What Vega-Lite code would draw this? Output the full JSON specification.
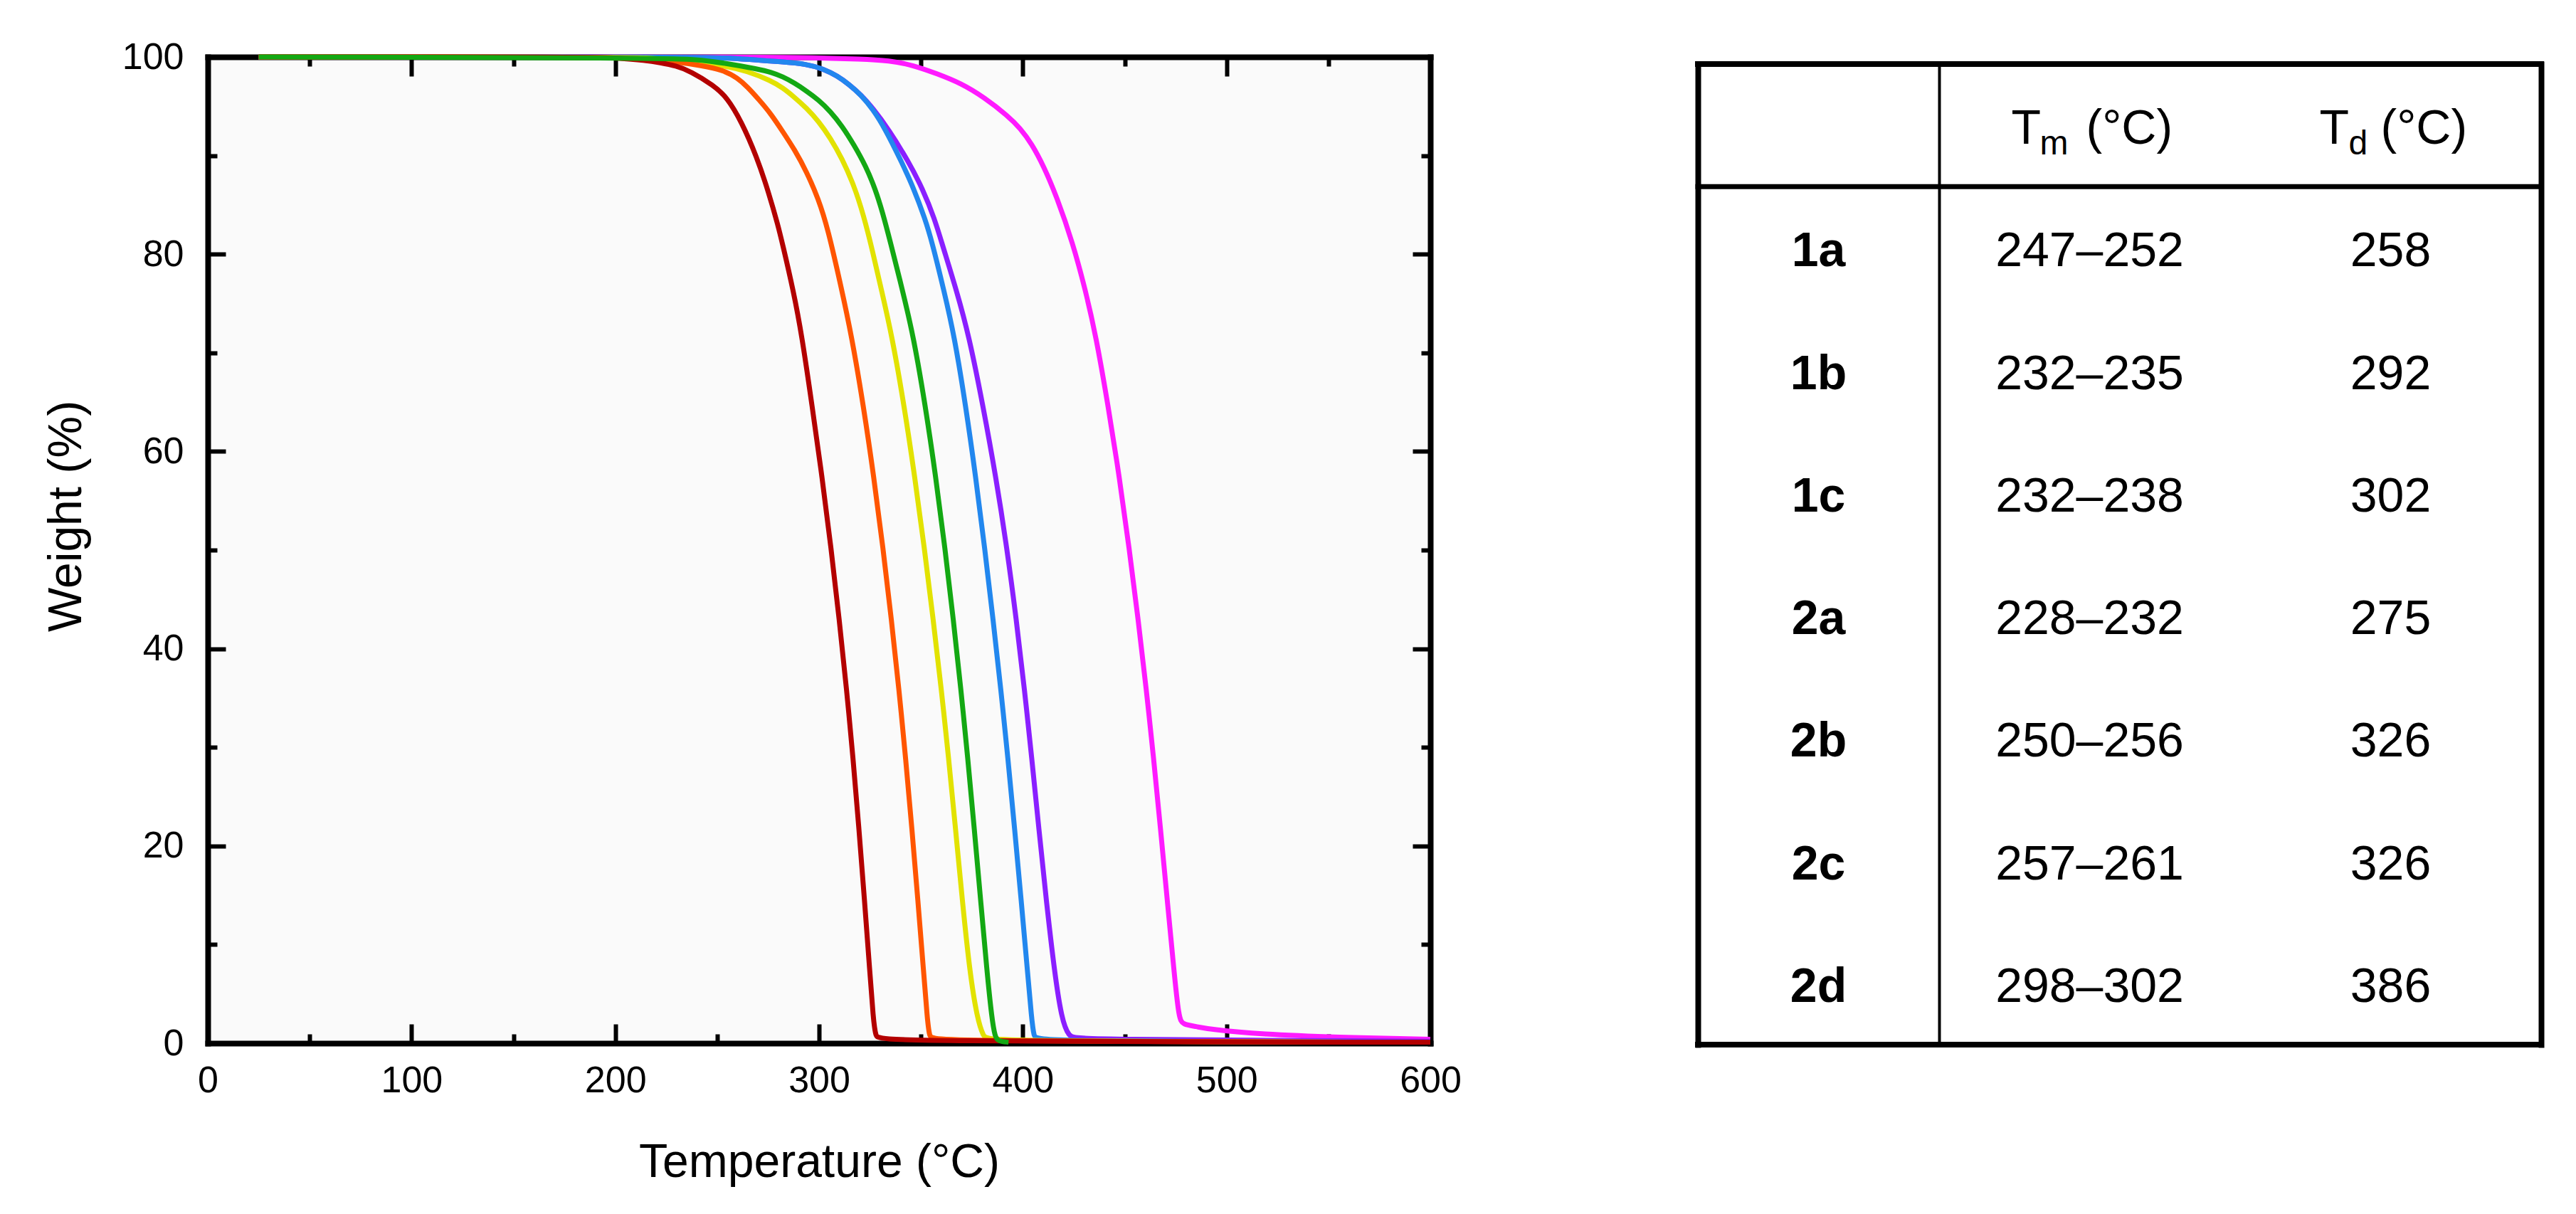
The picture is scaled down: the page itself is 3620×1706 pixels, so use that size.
{
  "$schema": "https://vega.github.io/schema/vega-lite/v6.json",
  "background": "white",
  "padding": {"left": 60, "top": 54, "right": 10, "bottom": 10},
  "bounds": "flush",
  "spacing": 376,
  "config": {
    "font": "Liberation Sans",
    "view": {"stroke": null},
    "axis": {"grid": false, "labelColor": "black", "titleColor": "black", "domainColor": "black", "tickColor": "black", "titleFontWeight": "normal", "labelFlush": false, "labelOverlap": false}
  },
  "datasets": {
    "tga": [
      {"s":"2d","T":25,"W":100},{"s":"2d","T":280,"W":100},{"s":"2d","T":300,"W":99.9},{"s":"2d","T":320,"W":99.8},{"s":"2d","T":334.6,"W":99.64},{"s":"2d","T":346.2,"W":99.16},{"s":"2d","T":357.9,"W":98.3},{"s":"2d","T":369.5,"W":97.35},{"s":"2d","T":381.1,"W":95.9},{"s":"2d","T":392.8,"W":94},{"s":"2d","T":398.6,"W":92.8},{"s":"2d","T":404.4,"W":91.2},{"s":"2d","T":410.3,"W":88.9},{"s":"2d","T":416.5,"W":85.9},{"s":"2d","T":424.6,"W":81.1},{"s":"2d","T":430.8,"W":76.3},{"s":"2d","T":435.9,"W":71.7},{"s":"2d","T":441.9,"W":64.6},{"s":"2d","T":447.4,"W":57.4},{"s":"2d","T":452.2,"W":50.2},{"s":"2d","T":456.6,"W":43},{"s":"2d","T":460.6,"W":35.9},{"s":"2d","T":464.2,"W":28.9},{"s":"2d","T":467.6,"W":21.7},{"s":"2d","T":470.9,"W":14.5},{"s":"2d","T":474.2,"W":7.3},{"s":"2d","T":476.6,"W":2.5},{"s":"2d","T":478.5,"W":1.9},{"s":"2d","T":485,"W":1.7},{"s":"2d","T":492,"W":1.4},{"s":"2d","T":517,"W":0.9},{"s":"2d","T":554,"W":0.6},{"s":"2d","T":600,"W":0.4},
      {"s":"2c","T":25,"W":100},{"s":"2c","T":235,"W":100},{"s":"2c","T":255,"W":99.9},{"s":"2c","T":264.7,"W":99.76},{"s":"2c","T":282.2,"W":99.5},{"s":"2c","T":293.8,"W":99.28},{"s":"2c","T":302,"W":98.8},{"s":"2c","T":309,"W":98.07},{"s":"2c","T":314.8,"W":97.2},{"s":"2c","T":320.6,"W":96.15},{"s":"2c","T":326.4,"W":94.8},{"s":"2c","T":334,"W":92.7},{"s":"2c","T":343.9,"W":89.4},{"s":"2c","T":350.9,"W":86.6},{"s":"2c","T":356.7,"W":83.6},{"s":"2c","T":360.6,"W":80.9},{"s":"2c","T":367.5,"W":76.3},{"s":"2c","T":373.6,"W":71.7},{"s":"2c","T":380.5,"W":64.6},{"s":"2c","T":386.8,"W":57.4},{"s":"2c","T":392.2,"W":50.2},{"s":"2c","T":396.8,"W":43},{"s":"2c","T":400.8,"W":35.9},{"s":"2c","T":404.4,"W":28.9},{"s":"2c","T":407.9,"W":21.7},{"s":"2c","T":411.5,"W":14.5},{"s":"2c","T":415.5,"W":7.3},{"s":"2c","T":419,"W":2.5},{"s":"2c","T":422.6,"W":0.6},{"s":"2c","T":427,"W":0.4},{"s":"2c","T":600,"W":0.2},
      {"s":"2b","T":25,"W":100},{"s":"2b","T":235,"W":100},{"s":"2b","T":255,"W":99.9},{"s":"2b","T":264.7,"W":99.76},{"s":"2b","T":282.2,"W":99.5},{"s":"2b","T":293.8,"W":99.28},{"s":"2b","T":302,"W":98.8},{"s":"2b","T":309,"W":98.07},{"s":"2b","T":314.8,"W":97.2},{"s":"2b","T":320.6,"W":96.15},{"s":"2b","T":326.4,"W":94.7},{"s":"2b","T":332.2,"W":92.8},{"s":"2b","T":340.4,"W":89.4},{"s":"2b","T":346.2,"W":86.8},{"s":"2b","T":352,"W":83.6},{"s":"2b","T":355.5,"W":81.2},{"s":"2b","T":361.3,"W":76.3},{"s":"2b","T":366.4,"W":71.7},{"s":"2b","T":372,"W":64.6},{"s":"2b","T":376.9,"W":57.4},{"s":"2b","T":381.3,"W":50.2},{"s":"2b","T":385.4,"W":43},{"s":"2b","T":389.2,"W":35.9},{"s":"2b","T":392.7,"W":28.9},{"s":"2b","T":396,"W":21.7},{"s":"2b","T":399.2,"W":14.5},{"s":"2b","T":402.3,"W":7.3},{"s":"2b","T":404.3,"W":2.5},{"s":"2b","T":405.5,"W":0.6},{"s":"2b","T":407,"W":0.2},{"s":"2b","T":600,"W":0.1},
      {"s":"1b","T":25,"W":100},{"s":"1b","T":200,"W":100},{"s":"1b","T":215,"W":99.9},{"s":"1b","T":229.8,"W":99.7},{"s":"1b","T":253.1,"W":99.16},{"s":"1b","T":264.7,"W":98.56},{"s":"1b","T":276.4,"W":97.6},{"s":"1b","T":282.2,"W":96.87},{"s":"1b","T":288,"W":95.9},{"s":"1b","T":293.8,"W":94.83},{"s":"1b","T":299.7,"W":93.5},{"s":"1b","T":305.5,"W":91.8},{"s":"1b","T":311.3,"W":89.7},{"s":"1b","T":317.1,"W":87},{"s":"1b","T":321.8,"W":84},{"s":"1b","T":326.3,"W":80.3},{"s":"1b","T":330.8,"W":76.2},{"s":"1b","T":335.8,"W":71.7},{"s":"1b","T":341.8,"W":64.6},{"s":"1b","T":347,"W":57.4},{"s":"1b","T":351.7,"W":50.2},{"s":"1b","T":356,"W":43},{"s":"1b","T":360,"W":35.9},{"s":"1b","T":363.6,"W":28.9},{"s":"1b","T":367,"W":21.7},{"s":"1b","T":370.3,"W":14.5},{"s":"1b","T":373.9,"W":7.3},{"s":"1b","T":377.6,"W":2.5},{"s":"1b","T":380.8,"W":0.6},{"s":"1b","T":383,"W":0.2},{"s":"1b","T":600,"W":0.1},
      {"s":"2a","T":25,"W":100},{"s":"2a","T":200,"W":100},{"s":"2a","T":215,"W":99.8},{"s":"2a","T":229.8,"W":99.5},{"s":"2a","T":241.4,"W":99.16},{"s":"2a","T":253.1,"W":98.68},{"s":"2a","T":260.1,"W":97.84},{"s":"2a","T":264.7,"W":96.99},{"s":"2a","T":270.5,"W":95.67},{"s":"2a","T":276.4,"W":94.23},{"s":"2a","T":282.2,"W":92.42},{"s":"2a","T":288,"W":90.6},{"s":"2a","T":293.8,"W":88.4},{"s":"2a","T":299.7,"W":85.6},{"s":"2a","T":304.3,"W":82.6},{"s":"2a","T":310.6,"W":76.9},{"s":"2a","T":316,"W":71.7},{"s":"2a","T":321.8,"W":64.6},{"s":"2a","T":326.9,"W":57.4},{"s":"2a","T":331.4,"W":50.2},{"s":"2a","T":335.5,"W":43},{"s":"2a","T":339.2,"W":35.9},{"s":"2a","T":342.5,"W":28.9},{"s":"2a","T":345.6,"W":21.7},{"s":"2a","T":348.5,"W":14.5},{"s":"2a","T":351.3,"W":7.3},{"s":"2a","T":353.1,"W":2.5},{"s":"2a","T":354.2,"W":0.6},{"s":"2a","T":356,"W":0.2},{"s":"2a","T":600,"W":0.1},
      {"s":"1a","T":25,"W":100},{"s":"1a","T":190,"W":100},{"s":"1a","T":200,"W":99.9},{"s":"1a","T":215,"W":99.65},{"s":"1a","T":222,"W":99.42},{"s":"1a","T":229.8,"W":99.1},{"s":"1a","T":236.8,"W":98.56},{"s":"1a","T":248.4,"W":97.1},{"s":"1a","T":254.8,"W":95.9},{"s":"1a","T":261.8,"W":93.5},{"s":"1a","T":269.4,"W":89.9},{"s":"1a","T":275.2,"W":86.3},{"s":"1a","T":279.9,"W":82.9},{"s":"1a","T":282,"W":81.1},{"s":"1a","T":287.4,"W":76.3},{"s":"1a","T":291.6,"W":71.7},{"s":"1a","T":296.6,"W":64.6},{"s":"1a","T":301.5,"W":57.4},{"s":"1a","T":305.9,"W":50.2},{"s":"1a","T":309.9,"W":43},{"s":"1a","T":313.5,"W":35.9},{"s":"1a","T":316.7,"W":28.9},{"s":"1a","T":319.6,"W":21.7},{"s":"1a","T":322.3,"W":14.5},{"s":"1a","T":324.9,"W":7.3},{"s":"1a","T":326.6,"W":2.5},{"s":"1a","T":327.8,"W":0.6},{"s":"1a","T":330,"W":0.2},{"s":"1a","T":600,"W":0.1},
      {"s":"1c","T":25,"W":100},{"s":"1c","T":222,"W":99.9},{"s":"1c","T":240,"W":99.75},{"s":"1c","T":253.1,"W":99.4},{"s":"1c","T":270.5,"W":98.75},{"s":"1c","T":276.5,"W":98.45},{"s":"1c","T":282.2,"W":98},{"s":"1c","T":288,"W":97.35},{"s":"1c","T":293.8,"W":96.55},{"s":"1c","T":299.7,"W":95.65},{"s":"1c","T":305.5,"W":94.5},{"s":"1c","T":311.3,"W":93},{"s":"1c","T":317.1,"W":91.1},{"s":"1c","T":323,"W":88.9},{"s":"1c","T":327.6,"W":86.6},{"s":"1c","T":331.1,"W":84.3},{"s":"1c","T":334.8,"W":81.4},{"s":"1c","T":341,"W":76.3},{"s":"1c","T":346.3,"W":71.7},{"s":"1c","T":352.2,"W":64.6},{"s":"1c","T":357.3,"W":57.4},{"s":"1c","T":361.8,"W":50.2},{"s":"1c","T":365.9,"W":43},{"s":"1c","T":369.6,"W":35.9},{"s":"1c","T":373,"W":28.9},{"s":"1c","T":376.2,"W":21.7},{"s":"1c","T":379.3,"W":14.5},{"s":"1c","T":382.4,"W":7.3},{"s":"1c","T":384.8,"W":2.5},{"s":"1c","T":386.4,"W":0.6},{"s":"1c","T":388,"W":0.2},{"s":"1c","T":393,"W":0.1}
    ],
    "table": [
      {"row":"1a","tm":"247–252","td":"258"},
      {"row":"1b","tm":"232–235","td":"292"},
      {"row":"1c","tm":"232–238","td":"302"},
      {"row":"2a","tm":"228–232","td":"275"},
      {"row":"2b","tm":"250–256","td":"326"},
      {"row":"2c","tm":"257–261","td":"326"},
      {"row":"2d","tm":"298–302","td":"386"}
    ],
    "one": [{}]
  },
  "hconcat": [
    {
      "width": 1718,
      "height": 1386,
      "view": {"fill": "#fafafa"},
      "data": {"name": "tga"},
      "resolve": {"axis": {"x": "independent", "y": "independent"}},
      "layer": [
        {
          "mark": {"type": "line", "strokeWidth": 7, "interpolate": "basis"},
          "encoding": {
            "x": {"field": "T", "type": "quantitative", "scale": {"domain": [0, 600], "nice": false, "zero": false},
              "axis": {"orient": "bottom", "values": [0,100,200,300,400,500,600], "tickSize": -27, "tickWidth": 6, "domainWidth": 8, "domainCap": "square", "labelFontSize": 52, "labelPadding": 54, "title": "Temperature (°C)", "titleFontSize": 66, "titleBaseline": "alphabetic", "titleY": 187}},
            "y": {"field": "W", "type": "quantitative", "scale": {"domain": [0, 100], "nice": false},
              "axis": {"orient": "left", "values": [0,20,40,60,80,100], "tickSize": -25, "tickWidth": 6, "domainWidth": 8, "domainCap": "square", "labelFontSize": 52, "labelPadding": 59, "title": "Weight (%)", "titleFontSize": 66, "titleBaseline": "alphabetic", "titleAngle": 270, "titleX": -179, "titleY": 645}},
            "color": {"field": "s", "type": "nominal",
              "scale": {"domain": ["1a","2a","1b","1c","2b","2c","2d"], "range": ["#b30000","#ff5500","#e2e200","#13a813","#2287ee","#8a1fff","#ff1aff"]},
              "legend": null}
          }
        },
        {
          "mark": {"type": "line", "opacity": 0},
          "encoding": {
            "x": {"field": "T", "type": "quantitative", "axis": {"orient": "bottom", "values": [50,150,250,350,450,550], "tickSize": -13, "tickWidth": 6, "domain": false, "labels": false, "title": null}},
            "y": {"field": "W", "type": "quantitative", "axis": {"orient": "left", "values": [10,30,50,70,90], "tickSize": -13, "tickWidth": 6, "domain": false, "labels": false, "title": null}},
            "detail": {"field": "s"}
          }
        },
        {
          "mark": {"type": "line", "opacity": 0},
          "encoding": {
            "x": {"field": "T", "type": "quantitative", "axis": {"orient": "top", "values": [0,100,200,300,400,500,600], "tickSize": -27, "tickWidth": 6, "domainWidth": 8, "domainCap": "square", "labels": false, "title": null}},
            "y": {"field": "W", "type": "quantitative", "axis": {"orient": "right", "values": [0,20,40,60,80,100], "tickSize": -25, "tickWidth": 6, "domainWidth": 8, "domainCap": "square", "labels": false, "title": null}},
            "detail": {"field": "s"}
          }
        },
        {
          "mark": {"type": "line", "opacity": 0},
          "encoding": {
            "x": {"field": "T", "type": "quantitative", "axis": {"orient": "top", "values": [50,150,250,350,450,550], "tickSize": -13, "tickWidth": 6, "domain": false, "labels": false, "title": null}},
            "y": {"field": "W", "type": "quantitative", "axis": {"orient": "right", "values": [10,30,50,70,90], "tickSize": -13, "tickWidth": 6, "domain": false, "labels": false, "title": null}},
            "detail": {"field": "s"}
          }
        }
      ]
    },
    {
      "width": 1185,
      "height": 1388,
      "resolve": {"scale": {"x": "independent"}, "axis": {"x": "independent", "y": "independent"}},
      "layer": [
        {
          "data": {"name": "table"},
          "mark": {"type": "text", "fontSize": 68, "fontWeight": "bold", "baseline": "alphabetic", "dy": 26, "color": "black"},
          "encoding": {
            "x": {"datum": "c", "scale": {"type": "band", "domain": ["c"], "range": [0, 339], "paddingInner": 0, "paddingOuter": 0}, "axis": null},
            "y": {"field": "row", "type": "nominal",
              "scale": {"type": "band", "domain": ["head","1a","1b","1c","2a","2b","2c","2d"], "range": [10, 1388], "paddingInner": 0, "paddingOuter": 0},
              "axis": {"orient": "left", "domainWidth": 8, "domainCap": "square", "ticks": false, "labels": false, "title": null}},
            "text": {"field": "row"}
          }
        },
        {
          "data": {"name": "table"},
          "mark": {"type": "text", "fontSize": 68, "baseline": "alphabetic", "dy": 26, "color": "black"},
          "encoding": {
            "x": {"datum": "Tm", "scale": {"type": "band", "domain": ["Tm","Td"], "range": [339, 1185], "paddingInner": 0, "paddingOuter": 0}, "axis": null},
            "y": {"field": "row", "type": "nominal",
              "axis": {"orient": "left", "offset": -339, "domainWidth": 4, "domainCap": "square", "ticks": false, "labels": false, "title": null}},
            "text": {"field": "tm"}
          }
        },
        {
          "data": {"name": "table"},
          "mark": {"type": "text", "fontSize": 68, "baseline": "alphabetic", "dy": 26, "color": "black"},
          "encoding": {
            "x": {"datum": "Td", "scale": {"type": "band", "domain": ["Tm","Td"], "range": [339, 1185], "paddingInner": 0, "paddingOuter": 0}, "axis": null},
            "y": {"field": "row", "type": "nominal",
              "axis": {"orient": "right", "domainWidth": 8, "domainCap": "square", "ticks": false, "labels": false, "title": null}},
            "text": {"field": "td"}
          }
        },
        {
          "data": {"name": "one"},
          "mark": {"type": "text", "text": "T", "fontSize": 68, "align": "left", "dx": -110, "baseline": "alphabetic", "dy": 26, "color": "black"},
          "encoding": {
            "x": {"datum": "Tm", "scale": {"type": "band", "domain": ["Tm","Td"], "range": [339, 1185], "paddingInner": 0, "paddingOuter": 0}, "axis": null},
            "y": {"datum": "head", "axis": null}
          }
        },
        {
          "data": {"name": "one"},
          "mark": {"type": "text", "text": "m", "fontSize": 48, "align": "left", "dx": -70, "baseline": "alphabetic", "dy": 41, "color": "black"},
          "encoding": {
            "x": {"datum": "Tm", "scale": {"type": "band", "domain": ["Tm","Td"], "range": [339, 1185], "paddingInner": 0, "paddingOuter": 0}, "axis": null},
            "y": {"datum": "head", "axis": null}
          }
        },
        {
          "data": {"name": "one"},
          "mark": {"type": "text", "text": "(°C)", "fontSize": 68, "align": "left", "dx": -5, "baseline": "alphabetic", "dy": 26, "color": "black"},
          "encoding": {
            "x": {"datum": "Tm", "scale": {"type": "band", "domain": ["Tm","Td"], "range": [339, 1185], "paddingInner": 0, "paddingOuter": 0}, "axis": null},
            "y": {"datum": "head", "axis": null}
          }
        },
        {
          "data": {"name": "one"},
          "mark": {"type": "text", "text": "T", "fontSize": 68, "align": "left", "dx": -100, "baseline": "alphabetic", "dy": 26, "color": "black"},
          "encoding": {
            "x": {"datum": "Td", "scale": {"type": "band", "domain": ["Tm","Td"], "range": [339, 1185], "paddingInner": 0, "paddingOuter": 0}, "axis": null},
            "y": {"datum": "head", "axis": null}
          }
        },
        {
          "data": {"name": "one"},
          "mark": {"type": "text", "text": "d", "fontSize": 48, "align": "left", "dx": -59, "baseline": "alphabetic", "dy": 41, "color": "black"},
          "encoding": {
            "x": {"datum": "Td", "scale": {"type": "band", "domain": ["Tm","Td"], "range": [339, 1185], "paddingInner": 0, "paddingOuter": 0}, "axis": null},
            "y": {"datum": "head", "axis": null}
          }
        },
        {
          "data": {"name": "one"},
          "mark": {"type": "text", "text": "(°C)", "fontSize": 68, "align": "left", "dx": -14, "baseline": "alphabetic", "dy": 26, "color": "black"},
          "encoding": {
            "x": {"datum": "Td", "scale": {"type": "band", "domain": ["Tm","Td"], "range": [339, 1185], "paddingInner": 0, "paddingOuter": 0}, "axis": null},
            "y": {"datum": "head", "axis": null}
          }
        },
        {
          "data": {"name": "one"},
          "mark": {"type": "rule", "strokeWidth": 8, "strokeCap": "square", "color": "black"},
          "encoding": {"y": {"datum": "head", "bandPosition": 0, "axis": null}}
        },
        {
          "data": {"name": "one"},
          "mark": {"type": "rule", "strokeWidth": 7, "strokeCap": "square", "color": "black"},
          "encoding": {"y": {"datum": "1a", "bandPosition": 0, "axis": null}}
        },
        {
          "data": {"name": "one"},
          "mark": {"type": "rule", "strokeWidth": 8, "strokeCap": "square", "color": "black"},
          "encoding": {"y": {"datum": "2d", "bandPosition": 1, "axis": null}}
        }
      ]
    }
  ]
}
